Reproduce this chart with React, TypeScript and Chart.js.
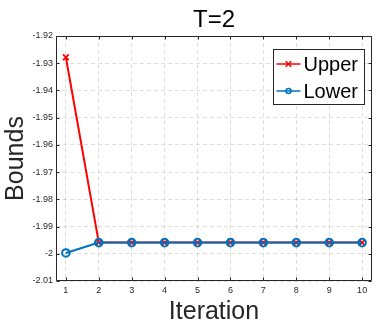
import React, { useEffect, useRef } from "react";
import { Chart, registerables } from "chart.js";

Chart.register(...registerables);

const chartTitle = "T=2";
const xAxisLabel = "Iteration";
const yAxisLabel = "Bounds";
const iterations = [1, 2, 3, 4, 5, 6, 7, 8, 9, 10];
const upperBounds = [-1.9278, -1.9959, -1.9959, -1.9959, -1.9959, -1.9959, -1.9959, -1.9959, -1.9959, -1.9959];
const lowerBounds = [-1.9997, -1.9959, -1.9959, -1.9959, -1.9959, -1.9959, -1.9959, -1.9959, -1.9959, -1.9959];
const seriesLabels = ["Upper", "Lower"];
const xTickValues = [1, 2, 3, 4, 5, 6, 7, 8, 9, 10];
const yTickValues = [-2.01, -2, -1.99, -1.98, -1.97, -1.96, -1.95, -1.94, -1.93, -1.92];
const xRange = [0.7, 10.3];
const yRange = [-2.01, -1.92];

const FONT = "'Liberation Sans', Arial, Helvetica, sans-serif";
const AXIS_COLOR = "#262626";
const UPPER_COLOR = "#FF0000";
const LOWER_COLOR = "#0072BD";

const framePlugin = {
  id: "frameTicks",
  beforeDatasetsDraw(chart: any) {
    const { ctx, chartArea: a, scales } = chart;
    ctx.save();
    ctx.strokeStyle = AXIS_COLOR;
    ctx.lineWidth = 1;
    const L = Math.round(a.left) + 0.5;
    const R = Math.round(a.right) - 0.5;
    const T = Math.round(a.top) + 0.5;
    const B = Math.round(a.bottom) - 0.5;
    ctx.beginPath();
    ctx.rect(L, T, R - L, B - T);
    ctx.stroke();
    const tl = 3;
    ctx.beginPath();
    for (const v of xTickValues) {
      const px = Math.round(scales.x.getPixelForValue(v)) + 0.5;
      ctx.moveTo(px, B);
      ctx.lineTo(px, B - tl);
      ctx.moveTo(px, T);
      ctx.lineTo(px, T + tl);
    }
    for (const v of yTickValues) {
      const py = Math.round(scales.y.getPixelForValue(v)) + 0.5;
      ctx.moveTo(L, py);
      ctx.lineTo(L + tl, py);
      ctx.moveTo(R, py);
      ctx.lineTo(R - tl, py);
    }
    ctx.stroke();
    ctx.restore();
  },
};

const titleLegendPlugin = {
  id: "titleLegend",
  afterDatasetsDraw(chart: any) {
    const { ctx, chartArea: a } = chart;
    ctx.save();
    // title
    ctx.fillStyle = "#000000";
    ctx.font = `24px ${FONT}`;
    ctx.textAlign = "center";
    ctx.textBaseline = "alphabetic";
    ctx.fillText(chartTitle, (a.left + a.right) / 2, 27);

    // legend
    const bx = Math.round(a.right) - 98.5;
    const by = Math.round(a.top) + 13.5;
    const bw = 91;
    const bh = 55;
    ctx.fillStyle = "#ffffff";
    ctx.fillRect(bx, by, bw, bh);
    ctx.strokeStyle = AXIS_COLOR;
    ctx.lineWidth = 1;
    ctx.strokeRect(bx, by, bw, bh);
    const rows = [by + 14.5, by + 41.5];
    chart.data.datasets.forEach((ds: any, i: number) => {
      const y = rows[i];
      const x0 = bx + 3;
      const x1 = bx + 27;
      const xm = (x0 + x1) / 2;
      ctx.strokeStyle = ds.borderColor;
      ctx.lineWidth = 1.5;
      ctx.beginPath();
      ctx.moveTo(x0, y);
      ctx.lineTo(x1, y);
      ctx.stroke();
      ctx.beginPath();
      if (ds.pointStyle === "crossRot") {
        const r = 2.8;
        ctx.moveTo(xm - r, y - r);
        ctx.lineTo(xm + r, y + r);
        ctx.moveTo(xm - r, y + r);
        ctx.lineTo(xm + r, y - r);
      } else {
        ctx.arc(xm, y, 2.5, 0, Math.PI * 2);
      }
      ctx.stroke();
      ctx.fillStyle = "#000000";
      ctx.font = `20px ${FONT}`;
      ctx.textAlign = "left";
      ctx.textBaseline = "middle";
      ctx.fillText(ds.label, bx + 30, y + 1);
    });
    ctx.restore();
  },
};

export default function App() {
  const canvasRef = useRef<HTMLCanvasElement | null>(null);

  useEffect(() => {
    document.body.style.margin = "0";
    const canvas = canvasRef.current;
    if (!canvas) return;
    const gridOpts = {
      display: true,
      color: "rgba(38,38,38,0.15)",
      lineWidth: 1,
      drawTicks: false,
    };
    const chart = new Chart(canvas, {
      type: "line",
      data: {
        datasets: [
          {
            label: seriesLabels[0],
            data: iterations.map((x, i) => ({ x, y: upperBounds[i] })),
            borderColor: UPPER_COLOR,
            backgroundColor: UPPER_COLOR,
            borderWidth: 2,
            pointStyle: "crossRot",
            pointRadius: 4,
            pointBorderWidth: 1.8,
            pointBorderColor: UPPER_COLOR,
            tension: 0,
            order: 1,
          },
          {
            label: seriesLabels[1],
            data: iterations.map((x, i) => ({ x, y: lowerBounds[i] })),
            borderColor: LOWER_COLOR,
            backgroundColor: "rgba(0,0,0,0)",
            borderWidth: 2,
            pointStyle: "circle",
            pointRadius: 3.8,
            pointBorderWidth: 2,
            pointBorderColor: LOWER_COLOR,
            pointBackgroundColor: "rgba(0,0,0,0)",
            tension: 0,
            order: 0,
          },
        ],
      },
      options: {
        animation: false,
        responsive: false,
        maintainAspectRatio: false,
        layout: { padding: { left: 0, right: 10, top: 36, bottom: 0 } },
        plugins: {
          legend: { display: false },
          title: { display: false },
          tooltip: { enabled: false },
        },
        scales: {
          x: {
            type: "linear",
            min: xRange[0],
            max: xRange[1],
            afterBuildTicks: (s: any) => {
              s.ticks = xTickValues.map((v) => ({ value: v }));
            },
            afterFit: (s: any) => {
              s.height = 46;
            },
            grid: gridOpts,
            border: { display: false, dash: [4, 3] },
            ticks: {
              color: AXIS_COLOR,
              font: { family: FONT, size: 9 },
              padding: 4,
              maxRotation: 0,
              autoSkip: false,
              callback: (v: any) => String(v),
            },
            title: {
              display: true,
              text: xAxisLabel,
              color: AXIS_COLOR,
              font: { family: FONT, size: 25, lineHeight: 1.2 },
              padding: { top: 0, bottom: 0 },
            },
          },
          y: {
            type: "linear",
            min: yRange[0],
            max: yRange[1],
            afterBuildTicks: (s: any) => {
              s.ticks = yTickValues.map((v) => ({ value: v }));
            },
            afterFit: (s: any) => {
              s.width = 56;
            },
            grid: gridOpts,
            border: { display: false, dash: [4, 3] },
            ticks: {
              color: AXIS_COLOR,
              font: { family: FONT, size: 9 },
              padding: 3,
              autoSkip: false,
              callback: (v: any) => String(Math.round(Number(v) * 100) / 100),
            },
            title: {
              display: true,
              text: yAxisLabel,
              color: AXIS_COLOR,
              font: { family: FONT, size: 25, lineHeight: 1.2 },
              padding: { top: 1.5, bottom: 0 },
            },
          },
        },
      },
      plugins: [framePlugin, titleLegendPlugin],
    } as any);
    return () => chart.destroy();
  }, []);

  return (
    <div style={{ position: "absolute", left: 0, top: 0, width: 382, height: 327, background: "#fff" }}>
      <canvas ref={canvasRef} width={382} height={327} style={{ width: 382, height: 327, display: "block" }} />
    </div>
  );
}
